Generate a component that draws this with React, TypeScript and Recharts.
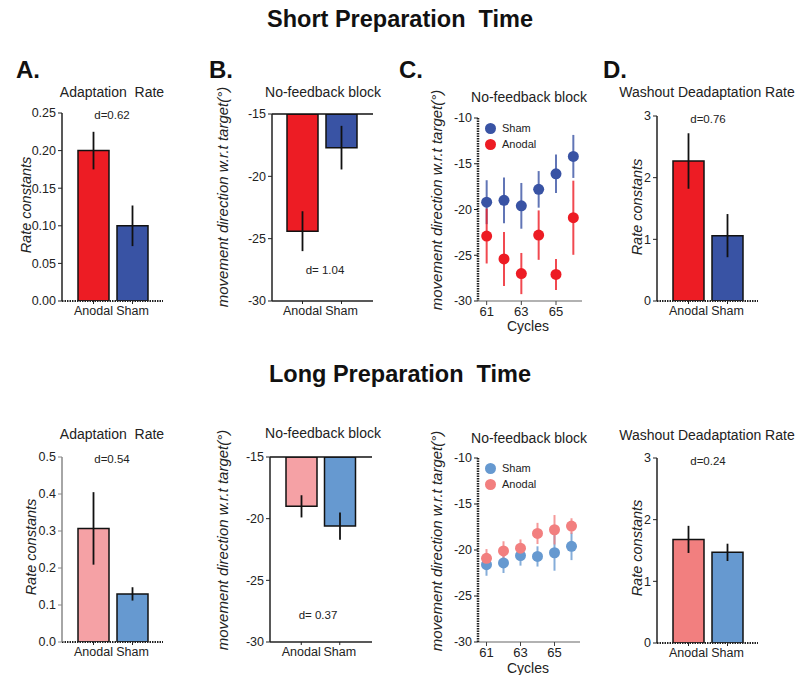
import { Bar, BarChart, Cell, ErrorBar, ReferenceLine, Scatter, ScatterChart, XAxis, YAxis } from "recharts";

const FONT = 'Arial, "Liberation Sans", Helvetica, sans-serif';

const groups = ["Anodal", "Sham"];

// short preparation time
const adaptShort = [0.2, 0.1];
const adaptShortErr = [0.025, 0.027];
const noFbShort = [-24.4, -17.7];
const noFbShortErr = [1.6, 1.75];
const washShort = [2.27, 1.06];
const washShortErr = [0.45, 0.35];

// long preparation time
const adaptLong = [0.307, 0.13];
const adaptLongErr = [0.098, 0.018];
const noFbLong = [-19.0, -20.6];
const noFbLongErr = [0.9, 1.1];
const washLong = [1.68, 1.47];
const washLongErr = [0.22, 0.14];

// per-cycle no-feedback block
const cycles = [61, 62, 63, 64, 65, 66];
const shamShort = [-19.2, -19.0, -19.6, -17.8, -16.1, -14.2];
const shamShortErr = [2.4, 2.5, 2.5, 2.0, 2.1, 2.35];
const anodalShort = [-22.9, -25.4, -27.0, -22.8, -27.1, -20.9];
const anodalShortErr = [3.0, 2.95, 2.25, 2.7, 1.7, 4.05];
const shamLong = [-21.6, -21.4, -20.6, -20.7, -20.3, -19.6];
const shamLongErr = [1.2, 1.1, 1.1, 1.1, 1.95, 1.5];
const anodalLong = [-20.9, -20.1, -19.8, -18.2, -17.8, -17.4];
const anodalLongErr = [1.0, 1.05, 0.95, 1.15, 1.6, 0.85];

const RED = "#ed1c24";
const BLUE = "#3953a4";
const PINK = "#f5a1a5";
const SALMON = "#f27f7f";
const LBLUE = "#6699d0";

const ML = 60;
const MT = 10;

type BarProps = {
  L: number; T: number; R: number; B: number;
  values: number[]; errs: number[]; fills: string[];
  domain: [number, number]; ticks: number[];
  fmt?: (v: number) => string;
  dotted?: boolean; topLine?: boolean; axisColor?: string;
  padL: number; padR: number;
};

function BarPanel(p: BarProps) {
  const data = groups.map((g, i) => ({ name: g, value: p.values[i], err: p.errs[i] }));
  const w = p.R - p.L + ML + 10;
  const h = p.B - p.T + MT + 30;
  const ac = p.axisColor ?? "#222";
  return (
    <div style={{ position: "absolute", left: p.L - ML, top: p.T - MT }}>
      <BarChart width={w} height={h} data={data} margin={{ top: MT, right: 10, left: 0, bottom: 0 }}>
        <XAxis
          dataKey="name"
          height={30}
          padding={{ left: p.padL, right: p.padR }}
          tickSize={3}
          tickMargin={2}
          axisLine={p.dotted ? { stroke: "#222", strokeWidth: 2, strokeDasharray: "1.5 1" } : { stroke: "#222", strokeWidth: 1.5 }}
          tickLine={{ stroke: "#222" }}
          tick={{ fontSize: 12.5, fill: "#222", fontFamily: FONT }}
        />
        <YAxis
          width={ML}
          domain={p.domain}
          ticks={p.ticks}
          allowDataOverflow
          tickFormatter={p.fmt}
          tickSize={4}
          tickMargin={2}
          axisLine={{ stroke: ac, strokeWidth: 1.5 }}
          tickLine={{ stroke: ac }}
          tick={{ fontSize: 12.5, fill: "#222", fontFamily: FONT }}
        />
        {p.topLine && <ReferenceLine y={p.domain[1]} stroke="#111" strokeWidth={1.5} />}
        <Bar dataKey="value" barSize={31} stroke="#111" strokeWidth={1.5} isAnimationActive={false}>
          {data.map((_, i) => (
            <Cell key={i} fill={p.fills[i]} />
          ))}
          <ErrorBar dataKey="err" width={0} stroke="#111" strokeWidth={1.8} />
        </Bar>
      </BarChart>
    </div>
  );
}

type ScatterProps = {
  L: number; T: number; R: number; B: number;
  sham: number[]; shamErr: number[]; anodal: number[]; anodalErr: number[];
  shamColor: string; anodalColor: string;
};

function dot(color: string) {
  return (props: any) => <circle cx={props.cx} cy={props.cy} r={5.5} fill={color} />;
}

function ScatterPanel(p: ScatterProps) {
  const shamData = cycles.map((c, i) => ({ x: c, y: p.sham[i], err: p.shamErr[i] }));
  const anodalData = cycles.map((c, i) => ({ x: c, y: p.anodal[i], err: p.anodalErr[i] }));
  const w = p.R - p.L + ML + 10;
  const h = p.B - p.T + MT + 30;
  return (
    <div style={{ position: "absolute", left: p.L - ML, top: p.T - MT }}>
      <ScatterChart width={w} height={h} margin={{ top: MT, right: 10, left: 0, bottom: 0 }}>
        <XAxis
          type="number"
          dataKey="x"
          domain={[60.5, 66.5]}
          ticks={[61, 63, 65]}
          height={30}
          tickSize={4}
          tickMargin={2}
          axisLine={{ stroke: "#666", strokeWidth: 1.2 }}
          tickLine={{ stroke: "#444" }}
          tick={{ fontSize: 13, fill: "#222", fontFamily: FONT }}
        />
        <YAxis
          type="number"
          dataKey="y"
          width={ML}
          domain={[-30, -10]}
          ticks={[-30, -25, -20, -15, -10]}
          allowDataOverflow
          tickSize={4}
          tickMargin={2}
          axisLine={{ stroke: "#222", strokeWidth: 2.5, strokeDasharray: "1.5 1" }}
          tickLine={{ stroke: "#222" }}
          tick={{ fontSize: 12.5, fill: "#222", fontFamily: FONT }}
        />
        <Scatter data={shamData} shape={dot(p.shamColor)} isAnimationActive={false}>
          <ErrorBar dataKey="err" direction="y" width={0} stroke={p.shamColor} strokeOpacity={0.8} strokeWidth={2} />
        </Scatter>
        <Scatter data={anodalData} shape={dot(p.anodalColor)} isAnimationActive={false}>
          <ErrorBar dataKey="err" direction="y" width={0} stroke={p.anodalColor} strokeOpacity={0.8} strokeWidth={2} />
        </Scatter>
      </ScatterChart>
    </div>
  );
}

function Txt(props: { x: number; y: number; children: any; size?: number; bold?: boolean; italic?: boolean; rotate?: boolean; color?: string }) {
  return (
    <div
      style={{
        position: "absolute",
        left: props.x,
        top: props.y,
        transform: `translate(-50%, -50%)${props.rotate ? " rotate(-90deg)" : ""}`,
        whiteSpace: "pre",
        fontFamily: FONT,
        fontSize: props.size ?? 14,
        fontWeight: props.bold ? "bold" : "normal",
        fontStyle: props.italic ? "italic" : "normal",
        color: props.color ?? "#222",
        lineHeight: 1,
      }}
    >
      {props.children}
    </div>
  );
}

function LegendBox(props: { x: number; y: number; shamColor: string; anodalColor: string }) {
  const row = (label: string, color: string, dy: number) => (
    <div style={{ position: "absolute", left: props.x, top: props.y + dy, display: "flex", alignItems: "center" }}>
      <div style={{ width: 11, height: 11, borderRadius: "50%", background: color, marginRight: 6 }} />
      <span style={{ fontFamily: FONT, fontSize: 11, color: "#222" }}>{label}</span>
    </div>
  );
  return (
    <>
      {row("Sham", props.shamColor, 0)}
      {row("Anodal", props.anodalColor, 16)}
    </>
  );
}

const yLabel = "movement direction w.r.t target(°)";

export default function App() {
  const f2 = (v: number) => v.toFixed(2);
  const f1 = (v: number) => v.toFixed(1);
  return (
    <div style={{ position: "absolute", left: 0, top: 0, width: 797, height: 675, background: "#fff", overflow: "hidden" }}>
      <Txt x={400} y={20} size={23.5} bold color="#111">{"Short Preparation  Time"}</Txt>
      <Txt x={400} y={375} size={23.5} bold color="#111">{"Long Preparation  Time"}</Txt>

      <Txt x={28} y={70} size={24} bold color="#111">A.</Txt>
      <Txt x={221} y={70} size={24} bold color="#111">B.</Txt>
      <Txt x={411} y={70} size={24} bold color="#111">C.</Txt>
      <Txt x={615} y={70} size={24} bold color="#111">D.</Txt>

      {/* row 1 */}
      <Txt x={112} y={92}>{"Adaptation  Rate"}</Txt>
      <Txt x={323} y={92}>No-feedback block</Txt>
      <Txt x={529} y={97}>No-feedback block</Txt>
      <Txt x={707} y={92}>Washout Deadaptation Rate</Txt>

      <Txt x={26} y={205} italic rotate size={14.5}>Rate constants</Txt>
      <Txt x={222} y={197} italic rotate size={15}>{yLabel}</Txt>
      <Txt x={436} y={200} italic rotate size={15}>{yLabel}</Txt>
      <Txt x={637} y={207} italic rotate size={14.5}>Rate constants</Txt>

      <BarPanel L={62} T={113} R={163} B={301} values={adaptShort} errs={adaptShortErr} fills={[RED, BLUE]}
        domain={[0, 0.25]} ticks={[0, 0.05, 0.1, 0.15, 0.2, 0.25]} fmt={f2} dotted padL={12} padR={11} />
      <BarPanel L={272} T={114} R={373} B={301} values={noFbShort} errs={noFbShortErr} fills={[RED, BLUE]}
        domain={[-30, -15]} ticks={[-30, -25, -20, -15]} topLine padL={11} padR={12} />
      <ScatterPanel L={478} T={118} R={582} B={301} sham={shamShort} shamErr={shamShortErr}
        anodal={anodalShort} anodalErr={anodalShortErr} shamColor={BLUE} anodalColor={RED} />
      <BarPanel L={657} T={116} R={758} B={301} values={washShort} errs={washShortErr} fills={[RED, BLUE]}
        domain={[0, 3]} ticks={[0, 1, 2, 3]} dotted padL={12} padR={11} />

      <Txt x={112} y={116} size={11.5}>d=0.62</Txt>
      <Txt x={325} y={271} size={11.5}>d= 1.04</Txt>
      <Txt x={708} y={120} size={11.5}>d=0.76</Txt>
      <LegendBox x={485} y={122} shamColor={BLUE} anodalColor={RED} />
      <Txt x={528} y={326}>Cycles</Txt>

      {/* row 2 */}
      <Txt x={112} y={434}>{"Adaptation  Rate"}</Txt>
      <Txt x={323} y={433}>No-feedback block</Txt>
      <Txt x={529} y={438}>No-feedback block</Txt>
      <Txt x={707} y={435}>Washout Deadaptation Rate</Txt>

      <Txt x={31} y={547} italic rotate size={14.5}>Rate constants</Txt>
      <Txt x={222} y={540} italic rotate size={15}>{yLabel}</Txt>
      <Txt x={436} y={541} italic rotate size={15}>{yLabel}</Txt>
      <Txt x={637} y={548} italic rotate size={14.5}>Rate constants</Txt>

      <BarPanel L={62} T={457} R={163} B={642} values={adaptLong} errs={adaptLongErr} fills={[PINK, LBLUE]}
        domain={[0, 0.5]} ticks={[0, 0.1, 0.2, 0.3, 0.4, 0.5]} fmt={f1} dotted axisColor="#888" padL={12} padR={11} />
      <BarPanel L={270} T={457} R={372} B={642} values={noFbLong} errs={noFbLongErr} fills={[PINK, LBLUE]}
        domain={[-30, -15]} ticks={[-30, -25, -20, -15]} topLine padL={12} padR={13} />
      <ScatterPanel L={478} T={458} R={580} B={642} sham={shamLong} shamErr={shamLongErr}
        anodal={anodalLong} anodalErr={anodalLongErr} shamColor={LBLUE} anodalColor={SALMON} />
      <BarPanel L={657} T={458} R={758} B={643} values={washLong} errs={washLongErr} fills={[SALMON, LBLUE]}
        domain={[0, 3]} ticks={[0, 1, 2, 3]} dotted padL={12} padR={11} />

      <Txt x={112} y={460} size={11.5}>d=0.54</Txt>
      <Txt x={318} y={616} size={11.5}>d= 0.37</Txt>
      <Txt x={708} y={462} size={11.5}>d=0.24</Txt>
      <LegendBox x={485} y={462} shamColor={LBLUE} anodalColor={SALMON} />
      <Txt x={528} y={668}>Cycles</Txt>
    </div>
  );
}
